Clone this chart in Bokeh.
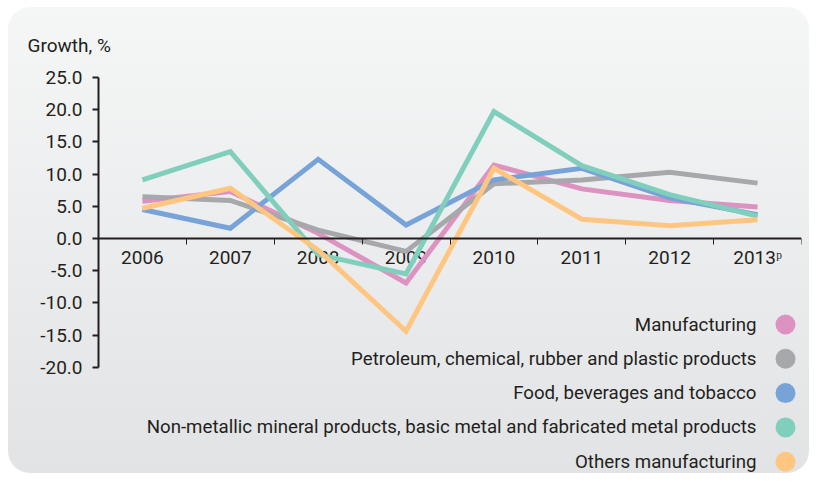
from bokeh.plotting import figure
from bokeh.models import (Range1d, LinearAxis, FixedTicker, NumeralTickFormatter,
                          Label, BoxAnnotation, Title)
from bokeh.core.properties import value
from bokeh.embed import file_html
from bokeh.resources import INLINE

years = ["2006", "2007", "2008", "2009", "2010", "2011", "2012", "2013"]
year_labels = ["2006", "2007", "2008", "2009", "2010", "2011", "2012", "2013ᵖ"]

manufacturing = [5.8, 7.3, 0.8, -6.9, 11.4, 7.7, 5.9, 4.9]
petroleum = [6.5, 5.9, 1.3, -2.0, 8.5, 9.1, 10.3, 8.6]
food = [4.5, 1.6, 12.3, 2.1, 9.1, 10.9, 6.3, 3.7]
non_metallic = [9.1, 13.5, -2.5, -5.5, 19.7, 11.3, 6.8, 3.5]
others = [4.7, 7.8, -1.8, -14.4, 10.9, 3.0, 2.0, 2.9]

series_names = [
    "Manufacturing",
    "Petroleum, chemical, rubber and plastic products",
    "Food, beverages and tobacco",
    "Non-metallic mineral products, basic metal and fabricated metal products",
    "Others manufacturing",
]
series_values = [manufacturing, petroleum, food, non_metallic, others]
colors = ["#dd93c2", "#a7a8ab", "#78a3d8", "#80cfbd", "#fec680"]

y_ticks = [-20, -15, -10, -5, 0, 5, 10, 15, 20, 25]

TEXT = "#231f20"
FONT = "Roboto"

FRAME_H = 396
PX_PER_UNIT = 6.44
x_pos = [i + 0.5 for i in range(len(years))]

p = figure(frame_width=703, frame_height=FRAME_H, output_backend="svg",
           toolbar_location=None,
           x_range=Range1d(0, len(years)),
           y_range=Range1d(25 - FRAME_H / PX_PER_UNIT, 25),
           x_axis_type=None, y_axis_type=None,
           min_border_left=90, min_border_right=8, min_border_top=70,
           min_border_bottom=0)
p.grid.visible = False
p.outline_line_color = None
p.background_fill_color = None
p.border_fill_color = None
p.styles = {"background": "linear-gradient(#f5f6f6, #e2e3e5)",
            "border-radius": "22px", "margin-left": "8px", "margin-top": "7px"}

p.add_layout(Title(text="Growth, %", align="left", offset=-71, standoff=42,
                   text_font=FONT, text_font_size="19px", text_font_style="normal",
                   text_color=TEXT), "above")

# y axis
yax = LinearAxis(bounds=(-20, 25), ticker=FixedTicker(ticks=y_ticks),
                 formatter=NumeralTickFormatter(format="0.0"))
yax.axis_line_color = TEXT
yax.axis_line_width = 2
yax.major_tick_line_color = TEXT
yax.major_tick_line_width = 2
yax.major_tick_out = 6
yax.major_tick_in = 0
yax.minor_tick_line_color = None
yax.major_label_text_font = FONT
yax.major_label_text_font_size = "19px"
yax.major_label_text_color = TEXT
yax.major_label_standoff = 10
p.add_layout(yax, "left")

# x axis line with ticks at category boundaries
bounds_ticks = list(range(len(years) + 1))
xax = LinearAxis(fixed_location=0, ticker=FixedTicker(ticks=bounds_ticks),
                 major_label_overrides={t: "" for t in bounds_ticks})
xax.axis_line_color = TEXT
xax.axis_line_width = 2
xax.major_tick_line_color = TEXT
xax.major_tick_line_width = 1
xax.major_tick_out = 6
xax.major_tick_in = 0
xax.minor_tick_line_color = None
xax.major_label_standoff = 0
xax.major_label_text_font_size = "1px"
p.add_layout(xax, "below")

# year labels at category centres, hanging under the zero line
p.text(x=x_pos, y=[0] * len(years), text=year_labels, text_align="center",
       text_baseline="alphabetic", y_offset=19, text_font=value(FONT),
       text_font_size="19px", text_color=TEXT)

for vals, col in zip(series_values, colors):
    p.line(x_pos, vals, line_color=col, line_width=5, line_join="miter")

# legend (labels right-aligned, swatch circles on the right)
for i, (name, col) in enumerate(zip(series_names, colors)):
    cy = 317 + i * 34.3
    p.add_layout(Label(x=748, y=cy, x_units="canvas", y_units="canvas",
                       text=name, text_font=FONT, text_font_size="18.7px",
                       text_color=TEXT, text_align="right", text_baseline="middle"))
    p.add_layout(BoxAnnotation(left=767, right=787, top=cy - 10, bottom=cy + 10,
                               left_units="canvas", right_units="canvas",
                               top_units="canvas", bottom_units="canvas",
                               fill_color=col, fill_alpha=1, line_color=None,
                               border_radius=10))

open("out.html", "w").write(file_html(p, INLINE))
